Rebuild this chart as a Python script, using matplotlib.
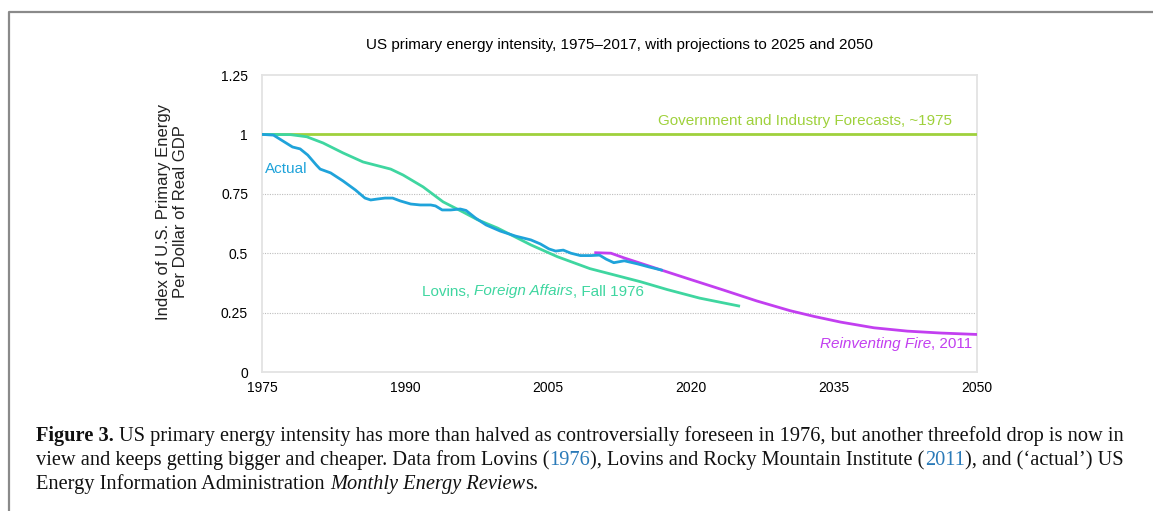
import matplotlib
matplotlib.use("Agg")
import matplotlib.pyplot as plt
from matplotlib.lines import Line2D

# ----------------------------
#   Data
# ----------------------------

actual_years = [1975, 1976.2, 1977.2, 1978.2, 1979.0, 1979.8, 1980.7, 1981.1, 1982.2,
                1983.5, 1984.8, 1985.8, 1986.4, 1987.1, 1987.9, 1988.7, 1989.5,
                1990.6, 1991.6, 1992.7, 1993.2, 1993.9, 1994.8, 1995.8, 1996.4,
                1997.4, 1998.5, 2000.0, 2001.6, 2003.2, 2004.2, 2005.1, 2005.8,
                2006.6, 2007.4, 2008.4, 2009.5, 2010.4, 2011.1, 2011.9, 2013.0,
                2014.4, 2015.6, 2016.9]
actual_vals = [1.0, 0.997, 0.972, 0.947, 0.939, 0.913, 0.871, 0.854, 0.838,
               0.804, 0.766, 0.732, 0.724, 0.728, 0.732, 0.732, 0.720,
               0.707, 0.703, 0.703, 0.699, 0.682, 0.682, 0.686, 0.680,
               0.648, 0.619, 0.593, 0.572, 0.556, 0.539, 0.518, 0.509,
               0.513, 0.500, 0.490, 0.490, 0.492, 0.475, 0.460, 0.468,
               0.455, 0.442, 0.429]

lovins_years = [1975, 1978, 1979.7, 1981.4, 1983.5, 1985.6, 1988.5, 1989.8, 1991.9,
                1994.0, 1996.1, 1997.6, 1999.7, 2003.2, 2006.0, 2009.4, 2014.7,
                2017.5, 2020.9, 2025.0]
lovins_vals = [1.0, 0.999, 0.99, 0.964, 0.922, 0.884, 0.854, 0.829, 0.779,
               0.716, 0.673, 0.641, 0.606, 0.535, 0.485, 0.435, 0.380,
               0.347, 0.311, 0.278]

fire_years = [2010.0, 2011.6, 2013.0, 2016.9, 2019.9, 2023.4, 2026.9, 2030.4,
              2032.9, 2035.7, 2039.2, 2042.7, 2046.2, 2050.0]
fire_vals = [0.502, 0.500, 0.480, 0.429, 0.390, 0.345, 0.299, 0.258,
             0.234, 0.210, 0.186, 0.172, 0.164, 0.158]

gov_years = [1975, 2050]
gov_vals = [1.0, 1.0]

x_ticks = [1975, 1990, 2005, 2020, 2035, 2050]
y_ticks = [0, 0.25, 0.5, 0.75, 1, 1.25]
y_tick_labels = ["0", "0.25", "0.5", "0.75", "1", "1.25"]

title = "US primary energy intensity, 1975\u20132017, with projections to 2025 and 2050"
ylabel = "Index of U.S. Primary Energy\nPer Dollar of Real GDP"

# ----------------------------
#   Colours
# ----------------------------

C_GOV = "#9fd13c"
C_ACT = "#1fa3da"
C_LOV = "#3fd6a0"
C_FIRE = "#c23ff0"
C_LINK = "#2a7ab8"

W, H = 1153, 511
SANS = ["Liberation Sans", "DejaVu Sans"]
SERIF = ["Liberation Serif", "DejaVu Serif"]

fig = plt.figure(figsize=(W / 100, H / 100), dpi=100)
renderer = fig.canvas.get_renderer()

ax = fig.add_axes([262 / W, 1 - 372 / H, (977 - 262) / W, (372 - 75) / H])

ax.plot(gov_years, gov_vals, color=C_GOV, lw=2.0, solid_capstyle="butt", zorder=3)
ax.plot(lovins_years, lovins_vals, color=C_LOV, lw=2.0, solid_joinstyle="round", zorder=4)
ax.plot(fire_years, fire_vals, color=C_FIRE, lw=2.0, solid_joinstyle="round", zorder=5)
ax.plot(actual_years, actual_vals, color=C_ACT, lw=2.0, solid_joinstyle="round", zorder=6)

ax.set_xlim(1975, 2050)
ax.set_ylim(0, 1.25)
ax.set_xticks(x_ticks)
ax.set_xticklabels([str(v) for v in x_ticks], family=SANS, fontsize=10)
ax.set_yticks(y_ticks)
ax.set_yticklabels(y_tick_labels, family=SANS, fontsize=10)
ax.tick_params(axis="x", length=0, pad=6.5)
ax.tick_params(axis="y", length=0, pad=10)

for yv in [0.25, 0.5, 0.75, 1.0]:
    ax.axhline(yv, color="#bdbdbd", lw=0.8, ls=(0, (1, 1.2)), zorder=1)

for sp in ax.spines.values():
    sp.set_color("#e3e3e3")
    sp.set_linewidth(1.3)

# ----------------------------
#   Text helpers (mixed styles on one line)
# ----------------------------

def text_width(s, **kw):
    t1 = fig.text(0, 0, "|" + s + "|", **kw)
    t2 = fig.text(0, 0, "||", **kw)
    w = t1.get_window_extent(renderer).width - t2.get_window_extent(renderer).width
    t1.remove()
    t2.remove()
    return w


def rich_text(x, y, pieces, base, ha="left"):
    # x, y in figure pixels (origin bottom-left), y is the baseline
    widths = [text_width(s, **{**base, **kw}) for s, kw in pieces]
    if ha == "right":
        x -= sum(widths)
    for (s, kw), w in zip(pieces, widths):
        lead = s[:len(s) - len(s.lstrip())]
        dx = text_width(lead, **{**base, **kw}) if lead else 0
        fig.text((x + dx) / W, y / H, s.lstrip(), ha="left", va="baseline",
                 **{**base, **kw})
        x += w


def data_px(xv, ypx_top):
    # x from data coords, y from pixel row counted from the top
    return ax.transData.transform((xv, 0))[0], H - ypx_top


# title and y label
fig.text((262 + 977) / 2 / W, 1 - 49 / H, title, ha="center", va="baseline",
         family=SANS, fontsize=11)
fig.text(172 / W, 1 - 212 / H, ylabel, ha="center", va="center", rotation=90,
         family=SANS, fontsize=12, linespacing=1.1, color="#222222")

# annotations inside the chart
lab = dict(family=SANS, fontsize=11)
x, y = data_px(2047.4, 124.5)
rich_text(x, y, [("Government and Industry Forecasts, ~1975", {})],
          {**lab, "color": C_GOV}, ha="right")
x, y = data_px(1975.3, 173)
rich_text(x, y, [("Actual", {})], {**lab, "color": C_ACT})
x, y = data_px(1991.8, 295.5)
rich_text(x, y, [("Lovins, ", {}), ("Foreign Affairs", {"style": "italic"}),
                 (", Fall 1976", {})], {**lab, "color": C_LOV})
x, y = data_px(2049.5, 348)
rich_text(x, y, [("Reinventing Fire", {"style": "italic"}), (", 2011", {})],
          {**lab, "color": C_FIRE}, ha="right")

# ----------------------------
#   Caption
# ----------------------------

cap_lines = [
    [("Figure 3.", {"weight": "bold"}),
     (" US primary energy intensity has more than halved as controversially foreseen in 1976, "
      "but another threefold drop is now in", {})],
    [("view and keeps getting bigger and cheaper. Data from Lovins (", {}),
     ("1976", {"color": C_LINK}),
     ("), Lovins and Rocky Mountain Institute (", {}),
     ("2011", {"color": C_LINK}),
     ("), and (\u2018actual\u2019) US", {})],
    [("Energy Information Administration ", {}),
     ("Monthly Energy Review", {"style": "italic"}),
     ("s.", {})],
]

# pick the caption size so that the first line fills the text width
probe = sum(text_width(s, **{"family": SERIF, "fontsize": 12, "color": "#111111", **kw})
            for s, kw in cap_lines[0])
cap_size = 12 * (1122 - 36) / probe
cap_base = dict(family=SERIF, fontsize=cap_size, color="#111111")
for i, line in enumerate(cap_lines):
    rich_text(36, H - (441 + 24 * i), line, cap_base)

# page frame (top and left edges)
fig.add_artist(Line2D([9 / W, 9 / W, 1], [0, 1 - 12 / H, 1 - 12 / H],
                      transform=fig.transFigure, color="#8a8a8a", lw=1.6))

fig.savefig("out.png", dpi=100)
